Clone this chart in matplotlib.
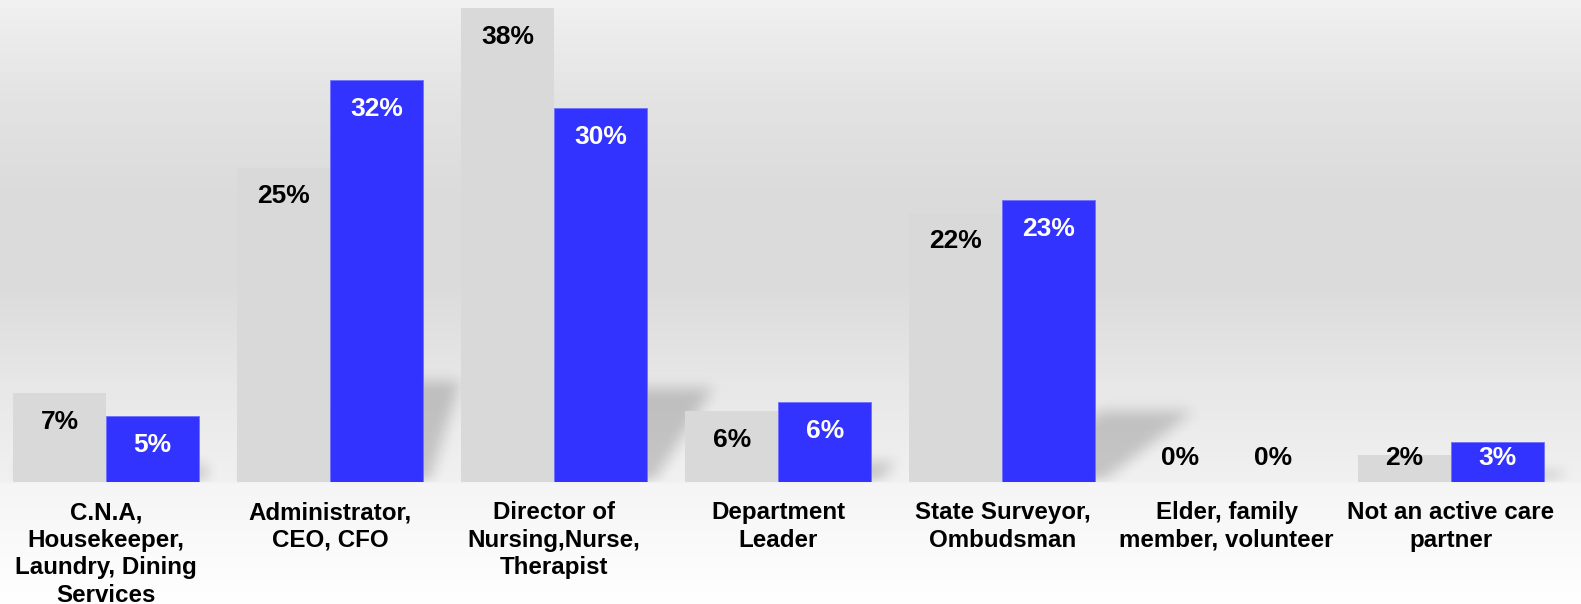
import numpy as np
import matplotlib.pyplot as plt

plt.rcParams['font.family'] = ['Liberation Sans', 'DejaVu Sans']

# 数据
categories = ['C.N.A,\nHousekeeper,\nLaundry, Dining\nServices',
              'Administrator,\nCEO, CFO',
              'Director of\nNursing,Nurse,\nTherapist',
              'Department\nLeader',
              'State Surveyor,\nOmbudsman',
              'Elder, family\nmember, volunteer',
              'Not an active care\npartner']
gray_values = [7.1, 25.2, 38.0, 5.7, 21.6, 0, 2.2]
blue_values = [5.3, 32.2, 30.0, 6.4, 22.6, 0, 3.2]

gray_color = '#d9d9d9'
blue_color = '#3333ff'

W, H = 1581, 604
fig = plt.figure(figsize=(W / 100, H / 100), dpi=100)

# 背景渐变
bg = fig.add_axes([0, 0, 1, 1], zorder=-1)
ypx = np.arange(H)
stops_y = [0, 100, 200, 290, 380, 481, 484, 604]
stops_v = [241, 227, 219, 220, 231, 241, 245, 255]
col = np.interp(ypx, stops_y, stops_v) / 255.0
grad = np.repeat(col[:, None], 4, axis=1)
bg.imshow(np.dstack([grad] * 3), aspect='auto', extent=(0, 1, 0, 1))
bg.axis('off')

# 主坐标轴
base_px = 482
ax = fig.add_axes([0, (H - base_px) / H, 1, base_px / H])
ax.patch.set_visible(False)
pitch = 224.1
xmin = -106 / pitch
xmax = xmin + W / pitch
ymax = base_px / 12.47
ax.set_xlim(xmin, xmax)
ax.set_ylim(0, ymax)

x = np.arange(len(categories))
bw = 93 / pitch

# 阴影（按柱子形状投影并模糊）
sx = W / (xmax - xmin)
sy = base_px / ymax
gx = np.arange(W)
gy = np.arange(base_px)
GX, GY = np.meshgrid(gx, gy)
mask = np.zeros((base_px, W))
for xs, vals in [(x - bw / 2, gray_values), (x + bw / 2, blue_values)]:
    for xc, v in zip(xs, vals):
        if v <= 0:
            continue
        left = (xc - bw / 2 - xmin) * sx + 6
        right = (xc + bw / 2 - xmin) * sx + 6
        h = 0.25 * v * sy
        slope = max(0.1, 0.3 + (right - 429) / 672)
        inside = (GY <= h) & (GX >= left + slope * GY) & (GX <= right + slope * GY)
        mask[inside] = 1.0


def box_blur(a, r, axis):
    k = np.ones(2 * r + 1) / (2 * r + 1)
    return np.apply_along_axis(lambda m: np.convolve(m, k, mode='same'), axis, a)


for _ in range(3):
    mask = box_blur(mask, 6, 0)
    mask = box_blur(mask, 6, 1)
shadow = np.zeros((base_px, W, 4))
shadow[..., 3] = 0.18 * mask
ax.imshow(shadow, extent=(xmin, xmax, 0, ymax), origin='lower',
          aspect='auto', zorder=1, interpolation='bilinear')

ax.bar(x - bw / 2, gray_values, bw, color=gray_color, zorder=2)
ax.bar(x + bw / 2, blue_values, bw, color=blue_color, edgecolor='#7070ff',
       linewidth=0.6, zorder=2)

# 数值标签
for xc, v in zip(x - bw / 2, gray_values):
    ax.text(xc, max(v - 2.3, 1.9), f'{v:.0f}%', ha='center', va='center',
            fontsize=19, fontweight='bold', color='black', zorder=3)
for xc, v in zip(x + bw / 2, blue_values):
    ax.text(xc, max(v - 2.3, 1.9), f'{v:.0f}%', ha='center', va='center',
            fontsize=19, fontweight='bold',
            color='white' if v > 0 else 'black', zorder=3)

ax.set_xticks(x)
ax.set_xticklabels(categories, fontsize=17.4, fontweight='bold', linespacing=1.25)
ax.tick_params(axis='x', length=0, pad=14)
ax.set_yticks([])
for s in ax.spines.values():
    s.set_visible(False)

fig.savefig('out.png', dpi=100)
